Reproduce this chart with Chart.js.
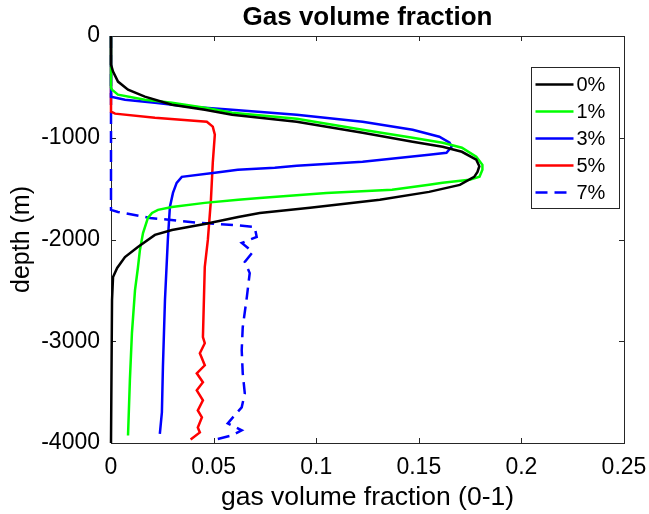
<!DOCTYPE html>
<html>
<head>
<meta charset="utf-8">
<script src="https://cdn.jsdelivr.net/npm/chart.js"></script>
<style>
  html, body { margin: 0; padding: 0; background: #fff; }
  #wrap { width: 649px; height: 514px; }
</style>
</head>
<body>
<div id="wrap"><canvas id="chart" width="649" height="514"></canvas></div>
<script>
// gas volume fraction vs depth (m)
const seriesLabels = ['0%', '1%', '3%', '5%', '7%'];

const depth0 = [0, -280, -350, -448, -527, -596, -675, -724, -773, -842, -951, -1039, -1088, -1138, -1216, -1280, -1335, -1384, -1463, -1532, -1610, -1689, -1739, -1778, -1847, -1906, -1955, -2073, -2172, -2280, -2369, -2595, -4000];
const gvf0 = [0, 0, 0.001, 0.0034, 0.0083, 0.0165, 0.0297, 0.0457, 0.059, 0.0905, 0.1226, 0.147, 0.1616, 0.171, 0.178, 0.1795, 0.1786, 0.177, 0.17, 0.155, 0.131, 0.097, 0.0725, 0.062, 0.0457, 0.0297, 0.0214, 0.0131, 0.0068, 0.003, 0.001, 0.0005, 0];

const depth1 = [0, -508, -527, -576, -626, -655, -704, -754, -813, -921, -1000, -1049, -1098, -1187, -1266, -1315, -1384, -1413, -1443, -1463, -1512, -1542, -1591, -1610, -1640, -1680, -1709, -1739, -1788, -1936, -2103, -2280, -2497, -2920, -3384, -3926];
const gvf1 = [0, 0, 0.0005, 0.0034, 0.0165, 0.0297, 0.0457, 0.059, 0.0905, 0.1226, 0.147, 0.1616, 0.171, 0.178, 0.181, 0.181, 0.1796, 0.1747, 0.1616, 0.155, 0.137, 0.105, 0.0725, 0.062, 0.0457, 0.0297, 0.0229, 0.02, 0.018, 0.0156, 0.0141, 0.0131, 0.0117, 0.0102, 0.0092, 0.0083];

const depth3 = [0, -596, -626, -655, -694, -724, -773, -842, -921, -990, -1049, -1088, -1148, -1167, -1236, -1276, -1295, -1315, -1345, -1384, -1443, -1542, -1680, -2004, -2595, -3255, -3700, -3910];
const gvf3 = [0, 0, 0.0068, 0.0214, 0.0375, 0.059, 0.0905, 0.1226, 0.147, 0.16, 0.165, 0.166, 0.1635, 0.155, 0.1226, 0.0905, 0.0798, 0.0618, 0.0506, 0.0345, 0.032, 0.0302, 0.0287, 0.0277, 0.0263, 0.0253, 0.0248, 0.0238];

const depth5 = [0, -744, -763, -803, -842, -891, -970, -1246, -1610, -2004, -2270, -2960, -3019, -3118, -3236, -3315, -3403, -3482, -3581, -3679, -3748, -3847, -3896, -3965];
const gvf5 = [0, 0, 0.002, 0.0214, 0.0467, 0.0496, 0.0506, 0.0496, 0.0487, 0.0472, 0.0457, 0.0448, 0.0457, 0.0433, 0.0457, 0.0418, 0.0448, 0.0418, 0.0448, 0.0423, 0.0443, 0.0423, 0.0433, 0.0388];

const depth7 = [0, -1709, -1729, -1788, -1837, -1857, -1877, -1975, -2034, -2123, -2221, -2330, -2566, -2862, -3088, -3315, -3512, -3650, -3748, -3807, -3876, -3926, -3970];
const gvf7 = [0, 0, 0.0034, 0.019, 0.0433, 0.0594, 0.07, 0.071, 0.0637, 0.0691, 0.0652, 0.0676, 0.0662, 0.0642, 0.0637, 0.0642, 0.0652, 0.0637, 0.0594, 0.0569, 0.0637, 0.0589, 0.05];

const xTicks = [0, 0.05, 0.1, 0.15, 0.2, 0.25];
const xTickLabels = ['0', '0.05', '0.1', '0.15', '0.2', '0.25'];
const yTicks = [-4000, -3000, -2000, -1000, 0];
const yTickLabels = ['-4000', '-3000', '-2000', '-1000', '0'];

const FONT = "'Liberation Sans', Arial, Helvetica, sans-serif";
const AXIS_COLOR = '#262626';

function zip(xs, ys) {
    return xs.map((x, i) => ({ x: x, y: ys[i] }));
}

function makeSet(label, xs, ys, color, dash) {
    return {
        label: label,
        data: zip(xs, ys),
        showLine: true,
        borderColor: color,
        backgroundColor: color,
        borderWidth: 2.5,
        borderDash: dash || [],
        pointRadius: 0,
        tension: 0,
        clip: 4
    };
}

// box + inward ticks like matlab, drawn under the lines
const matlabAxes = {
    id: 'matlabAxes',
    beforeDatasetsDraw(chart) {
        const ctx = chart.ctx;
        const a = chart.chartArea;
        const xs = chart.scales.x, ys = chart.scales.y;
        const tl = 5;
        ctx.save();
        ctx.strokeStyle = AXIS_COLOR;
        ctx.lineWidth = 1;
        ctx.strokeRect(Math.round(a.left) + 0.5, Math.round(a.top) + 0.5,
            Math.round(a.right - a.left), Math.round(a.bottom - a.top));
        ctx.beginPath();
        xTicks.forEach(v => {
            const px = Math.round(xs.getPixelForValue(v)) + 0.5;
            ctx.moveTo(px, a.bottom); ctx.lineTo(px, a.bottom - tl);
            ctx.moveTo(px, a.top); ctx.lineTo(px, a.top + tl);
        });
        yTicks.forEach(v => {
            const py = Math.round(ys.getPixelForValue(v)) + 0.5;
            ctx.moveTo(a.left, py); ctx.lineTo(a.left + tl, py);
            ctx.moveTo(a.right, py); ctx.lineTo(a.right - tl, py);
        });
        ctx.stroke();
        ctx.restore();
    },
    afterDraw(chart) {
        // legend box, top right inside the axes
        const ctx = chart.ctx;
        const a = chart.chartArea;
        const w = 88, h = 141;
        const x0 = Math.round(a.right - 5 - w) + 0.5;
        const y0 = Math.round(a.top + 31) + 0.5;
        ctx.save();
        ctx.fillStyle = '#fff';
        ctx.fillRect(x0, y0, w, h);
        ctx.strokeStyle = AXIS_COLOR;
        ctx.lineWidth = 1;
        ctx.strokeRect(x0, y0, w, h);
        ctx.font = '20px ' + FONT;
        ctx.textBaseline = 'middle';
        ctx.textAlign = 'left';
        chart.data.datasets.forEach((ds, i) => {
            const yy = y0 + 17 + 27 * i;
            ctx.beginPath();
            ctx.strokeStyle = ds.borderColor;
            ctx.lineWidth = ds.borderWidth;
            ctx.setLineDash(ds.borderDash);
            ctx.moveTo(x0 + 4, yy);
            ctx.lineTo(x0 + 42, yy);
            ctx.stroke();
            ctx.setLineDash([]);
            ctx.fillStyle = '#000';
            ctx.fillText(ds.label, x0 + 45, yy + 1);
        });
        ctx.restore();
    }
};

new Chart(document.getElementById('chart'), {
    type: 'scatter',
    data: {
        datasets: [
            makeSet(seriesLabels[0], gvf0, depth0, '#000000'),
            makeSet(seriesLabels[1], gvf1, depth1, '#00ff00'),
            makeSet(seriesLabels[2], gvf3, depth3, '#0000ff'),
            makeSet(seriesLabels[3], gvf5, depth5, '#ff0000'),
            makeSet(seriesLabels[4], gvf7, depth7, '#0000ff', [12, 7])
        ]
    },
    options: {
        responsive: false,
        animation: false,
        devicePixelRatio: 1,
        layout: { padding: { left: 0, right: 25, top: 0, bottom: 0 } },
        plugins: {
            legend: { display: false },
            tooltip: { enabled: false },
            title: {
                display: true,
                fullSize: false,
                text: 'Gas volume fraction',
                color: '#000',
                font: { family: FONT, size: 26, weight: 'bold' },
                padding: { top: 2, bottom: 2.8 }
            }
        },
        scales: {
            x: {
                type: 'linear',
                min: 0,
                max: 0.25,
                afterBuildTicks: s => { s.ticks = xTicks.map(v => ({ value: v })); },
                afterFit: s => { s.height = 71; s.paddingLeft = 0; s.paddingRight = 0; },
                grid: { display: false, drawTicks: false },
                border: { display: false },
                ticks: {
                    color: '#000',
                    padding: 11,
                    maxRotation: 0,
                    autoSkip: false,
                    font: { family: FONT, size: 23 },
                    callback: (v, i) => xTickLabels[i]
                },
                title: {
                    display: true,
                    text: 'gas volume fraction (0-1)',
                    color: '#000',
                    font: { family: FONT, size: 26.5 },
                    padding: { top: 0, bottom: 0 }
                }
            },
            y: {
                type: 'linear',
                min: -4000,
                max: 0,
                afterBuildTicks: s => { s.ticks = yTicks.map(v => ({ value: v })); },
                afterFit: s => { s.width = 111; s.paddingTop = 0; s.paddingBottom = 0; },
                grid: { display: false, drawTicks: false },
                border: { display: false },
                ticks: {
                    color: '#000',
                    padding: 11,
                    autoSkip: false,
                    font: { family: FONT, size: 23 },
                    callback: (v, i) => yTickLabels[i]
                },
                title: {
                    display: true,
                    text: 'depth (m)',
                    color: '#000',
                    font: { family: FONT, size: 25 },
                    padding: { top: 7, bottom: 0 }
                }
            }
        }
    },
    plugins: [matlabAxes]
});
</script>
</body>
</html>
